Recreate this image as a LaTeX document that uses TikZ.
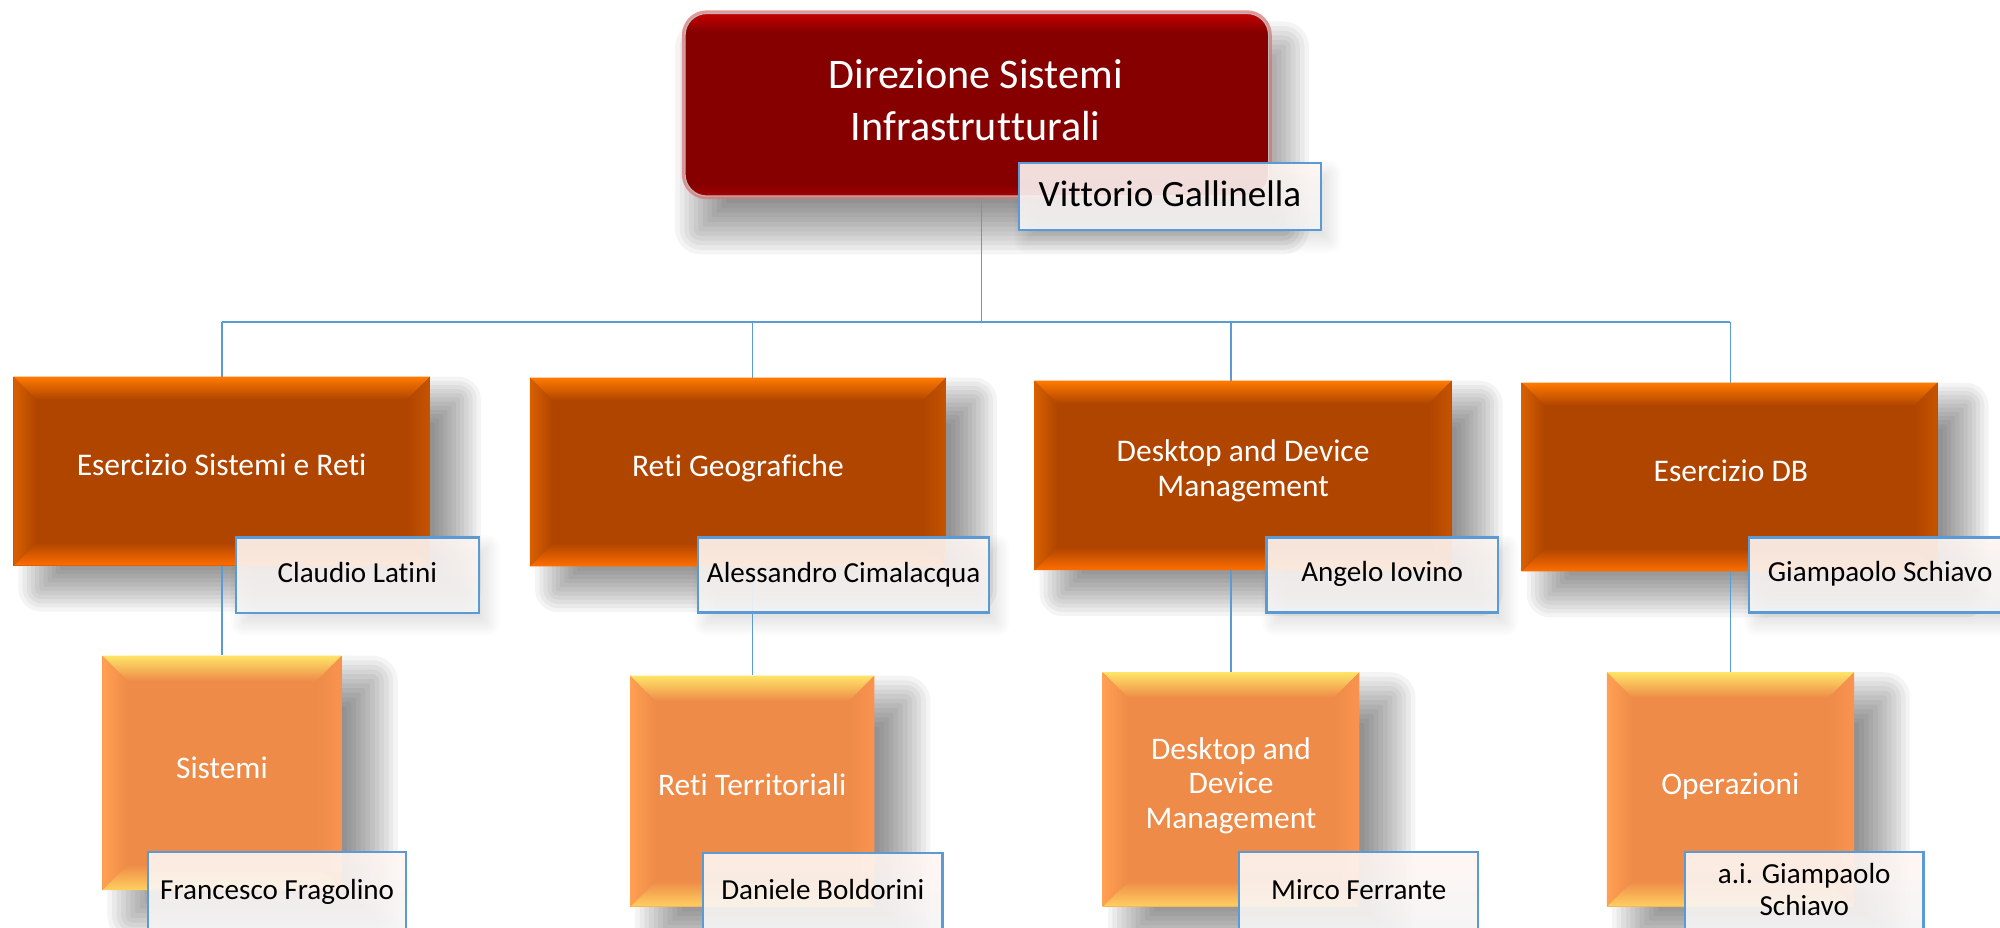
\documentclass[tikz,border=0pt]{standalone}
\usepackage{fontspec}
\setmainfont{Carlito}[Ligatures={NoCommon,NoRequired,NoContextual},RawFeature={-liga;-clig;-dlig;-calt}]
\usetikzlibrary{calc}
\definecolor{connc}{HTML}{5B9BD5}
\definecolor{nbord}{HTML}{5B9BD5}
\definecolor{nameT}{HTML}{FFF6F2}
\definecolor{nameB}{HTML}{F5F5F5}
\definecolor{Lbase}{HTML}{B04500}
\definecolor{Ltop}{HTML}{FF7A00}
\definecolor{Lleft}{HTML}{D86000}
\definecolor{Lright}{HTML}{C65400}
\definecolor{Lbot}{HTML}{FF6E00}
\definecolor{Sbase}{HTML}{EE8B48}
\definecolor{Stop}{HTML}{FFE468}
\definecolor{Sleft}{HTML}{FFA052}
\definecolor{Sright}{HTML}{F99450}
\definecolor{Sbot}{HTML}{FFD060}
\definecolor{Rdark}{HTML}{860000}
\definecolor{Rtop}{HTML}{C40000}
\definecolor{Rbot}{HTML}{A80000}
\definecolor{Rglow}{HTML}{DC7575}
\pgfdeclareverticalshading{redgloss}{100bp}{color(0bp)=(Rbot); color(25bp)=(Rbot); color(28bp)=(Rdark); color(70bp)=(Rdark); color(75bp)=(Rtop); color(100bp)=(Rtop)}
\pgfdeclarelayer{bg}
\pgfdeclarelayer{shadow}
\pgfdeclarelayer{lines}
\pgfsetlayers{bg,shadow,lines,main}
\tikzset{
  connl/.style={draw=connc, line width=1.1pt},
  namebox/.style={draw=nbord, line width=1.8pt, top color=nameT, bottom color=nameB, fill opacity=0.9, inner sep=0pt},
  wtxt/.style={text=white, inner sep=0pt, anchor=base},
  btxt/.style={text=black, inner sep=0pt, anchor=base},
}
\newcommand\fsz[2]{\fontsize{#1pt}{#2pt}\selectfont}
% zero kern that keeps two letters from forming a ligature
\newcommand\nl{\kern0pt{}}
% soft shadow: x1 y1 x2 y2 dx dy R alpha
\newcommand\softshadow[8]{%
  \foreach \k in {0,...,11}{%
    \pgfmathsetmacro\ee{#7*(1-\k/5.5)}%
    \pgfmathsetmacro\rc{max(\ee,1)}%
    \fill[black, fill opacity=#8, rounded corners=\rc pt] ({#1+#5-\ee},{#2+#6-\ee}) rectangle ({#3+#5+\ee},{#4+#6+\ee});
  }%
}
% bevelled box: name x1 y1 x2 y2 bevel palette
\newcommand\bevbox[7]{%
  \node[inner sep=0pt, fill=#7base, minimum width={(#4-#2)*1pt}, minimum height={(#5-#3)*1pt}] (#1) at ({(#2+#4)/2},{(#3+#5)/2}) {};
  \shade[top color=#7top, bottom color=#7base] (#2,#3) -- (#4,#3) -- ({#4-#6},{#3+#6}) -- ({#2+#6},{#3+#6}) -- cycle;
  \shade[top color=#7base, bottom color=#7bot] (#2,#5) -- (#4,#5) -- ({#4-#6},{#5-#6}) -- ({#2+#6},{#5-#6}) -- cycle;
  \shade[left color=#7left, right color=#7base] (#2,#3) -- ({#2+#6},{#3+#6}) -- ({#2+#6},{#5-#6}) -- (#2,#5) -- cycle;
  \shade[left color=#7base, right color=#7right] (#4,#3) -- ({#4-#6},{#3+#6}) -- ({#4-#6},{#5-#6}) -- (#4,#5) -- cycle;
}
\newcommand\nbox[5]{%
  \node[namebox, minimum width={(#4-#2)*1pt}, minimum height={(#5-#3)*1pt}] (#1) at ({(#2+#4)/2},{(#3+#5)/2}) {};
}
\begin{document}
\begin{tikzpicture}[x=1pt,y=-1pt]
\useasboundingbox (0,0) rectangle (1568,727);
\clip (0,0) rectangle (1568,727);
\begin{pgfonlayer}{bg}
\fill[white] (-2,-2) rectangle (1570,729);
\end{pgfonlayer}
% shadows
\begin{pgfonlayer}{shadow}
\softshadow{537.3}{10.8}{994.4}{153.5}{12}{26}{20}{0.045}
\softshadow{10.5}{295.3}{337}{443.5}{22}{18}{18}{0.045}
\softshadow{415.5}{296}{741.7}{444}{22}{18}{18}{0.045}
\softshadow{811}{298.5}{1138}{447}{22}{18}{18}{0.045}
\softshadow{1193}{300}{1519}{448}{22}{18}{18}{0.045}
\softshadow{80.2}{514}{267.9}{697.8}{24}{20}{20}{0.045}
\softshadow{494}{529.7}{685.5}{710.8}{24}{20}{20}{0.045}
\softshadow{864.5}{527}{1065.7}{710.8}{24}{20}{20}{0.045}
\softshadow{1259.7}{527}{1453.6}{710.8}{24}{20}{20}{0.045}
\softshadow{799}{128}{1035.7}{180.3}{6}{8}{10}{0.012}
\softshadow{184.8}{421.5}{375.5}{480.4}{6}{8}{10}{0.012}
\softshadow{547.5}{421.5}{775.4}{480.2}{6}{8}{10}{0.012}
\softshadow{993}{421.5}{1174.2}{480.2}{6}{8}{10}{0.012}
\softshadow{1371}{421.5}{1577}{480.2}{6}{8}{10}{0.012}
\end{pgfonlayer}
% top box
\node[inner sep=0pt, minimum width=457.1pt, minimum height=142.7pt] (top) at (765.85,82.15) {};
\draw[draw=Rglow, line width=5pt, draw opacity=0.75, rounded corners=17pt] (top.north west) rectangle (top.south east);
\shade[shading=redgloss, rounded corners=17pt] (top.north west) rectangle (top.south east);
\draw[draw=gray!55, line width=0.9pt, rounded corners=17pt] (top.north west) rectangle (top.south east);
% level 2
\bevbox{ua}{10.5}{295.3}{337}{443.5}{18}{L}
\bevbox{ub}{415.5}{296}{741.7}{444}{18}{L}
\bevbox{uc}{811}{298.5}{1138}{447}{18}{L}
\bevbox{ud}{1193}{300}{1519}{448}{18}{L}
% level 3
\bevbox{sa}{80.2}{514}{267.9}{697.8}{20}{S}
\bevbox{sb}{494}{529.7}{685.5}{710.8}{20}{S}
\bevbox{sc}{864.5}{527}{1065.7}{710.8}{20}{S}
\bevbox{sd}{1259.7}{527}{1453.6}{710.8}{20}{S}
% connectors
\coordinate (bus) at (0,252.5);
\coordinate (stem) at (769.5,153.5);
\begin{pgfonlayer}{lines}
\draw[connl] (stem) -- (stem |- bus);
\draw[connl] (sa.north |- bus) -- (sd.north |- bus);
\foreach \n in {sa,sb,sc,sd} \draw[connl] (\n.north |- bus) -- (\n.north);
\end{pgfonlayer}
% name boxes
\nbox{nv}{799}{128}{1035.7}{180.3}
\nbox{na}{184.8}{421.5}{375.5}{480.4}
\nbox{nb}{547.5}{421.5}{775.4}{480.2}
\nbox{nc}{993}{421.5}{1174.2}{480.2}
\nbox{nd}{1371}{421.5}{1577}{480.2}
\nbox{ma}{116.3}{668.2}{318.3}{729.5}
\nbox{mb}{551.4}{668.5}{738.8}{729.5}
\nbox{mc}{971.6}{668.2}{1159}{729.5}
\nbox{md}{1321}{668.2}{1507.9}{729.5}
% texts
\node[wtxt, font=\fsz{33}{40}] (t1) at (765,69.2) {Direzione Sistemi};
\node[wtxt, font=\fsz{33}{40}] (t2) at (765,109.8) {Infrastrut\nl turali};
\node[btxt, font=\fsz{29.1}{35}] (tv) at (917.3,162) {Vit\nl torio Gallinella};
\node[wtxt, font=\fsz{24.7}{30}] (tua) at (173.7,372.4) {Esercizio Sistemi e Ret\nl i};
\node[wtxt, font=\fsz{24.7}{30}] (tub) at (578.5,373.7) {Ret\nl i Geografiche};
\node[wtxt, font=\fsz{24.7}{30}] (tuc1) at (974.6,362) {Desktop and Device};
\node[wtxt, font=\fsz{24.7}{30}] (tuc2) at (974.6,389.4) {Management};
\node[wtxt, font=\fsz{24.7}{30}] (tud) at (1357,377.6) {Esercizio DB};
\node[btxt, font=\fsz{22.8}{27}] (tna) at (280.2,456.5) {Claudio Lat\nl ini};
\node[btxt, font=\fsz{22.8}{27}] (tnb) at (661.5,456.8) {Alessandro Cimalacqua};
\node[btxt, font=\fsz{22.8}{27}] (tnc) at (1083.6,456) {Angelo Iovino};
\node[btxt, font=\fsz{22.8}{27}] (tnd) at (1474,456) {Giampaolo Schiavo};
\node[wtxt, font=\fsz{24.6}{30}] (tsa) at (174,610) {Sistemi};
\node[wtxt, font=\fsz{24.6}{30}] (tsb) at (589.7,623.3) {Ret\nl i Territoriali};
\node[wtxt, font=\fsz{24.6}{30}] (tsc1) at (965.1,595.3) {Desktop and};
\node[wtxt, font=\fsz{24.6}{30}] (tsc2) at (965.1,622) {Device};
\node[wtxt, font=\fsz{24.6}{30}] (tsc3) at (965.1,649.4) {Management};
\node[wtxt, font=\fsz{24.6}{30}] (tsd) at (1356.6,622.5) {Operazioni};
\node[btxt, font=\fsz{22.8}{27}] (tma) at (217.3,705) {Francesco Fragolino};
\node[btxt, font=\fsz{22.8}{27}] (tmb) at (645.1,705) {Daniele Boldorini};
\node[btxt, font=\fsz{22.8}{27}] (tmc) at (1065.3,705) {Mirco Ferrante};
\node[btxt, font=\fsz{22.8}{27}] (tmd1) at (1414.5,692.5) {a.i. Giampaolo};
\node[btxt, font=\fsz{22.8}{27}] (tmd2) at (1414.5,717.4) {Schiavo};
\end{tikzpicture}
\end{document}
